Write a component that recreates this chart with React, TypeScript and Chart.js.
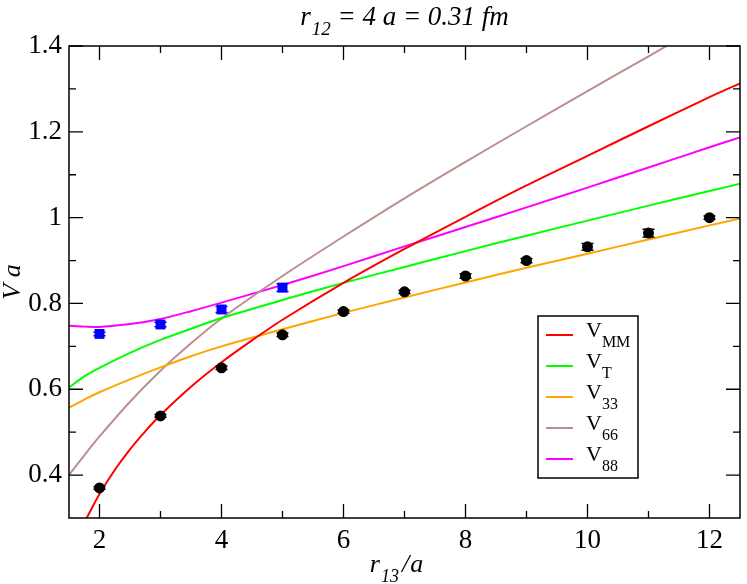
import React, { useEffect, useRef } from "react";
import { Chart, registerables } from "chart.js";
Chart.register(...registerables);

// ---- tick values ----
const xTickLabels = [2, 4, 6, 8, 10, 12];
const xMinorTicks = [3, 5, 7, 9, 11];
const yTickLabels = [0.4, 0.6, 0.8, 1.0, 1.2, 1.4];
const yMinorTicks = [0.5, 0.7, 0.9, 1.1, 1.3];

// ---- lattice data (black circles) ----
const latticeR = [2, 3, 4, 5, 6, 7, 8, 9, 10, 11, 12];
const latticeV = [0.370, 0.538, 0.650, 0.727, 0.781, 0.827, 0.864, 0.900, 0.932, 0.964, 1.000];
const latticeErr = [0.003, 0.003, 0.004, 0.004, 0.004, 0.004, 0.005, 0.005, 0.008, 0.009, 0.004];

// ---- second data set (blue squares) ----
const blueR = [2, 3, 4, 5];
const blueV = [0.729, 0.751, 0.786, 0.837];
const blueErr = [0.004, 0.005, 0.007, 0.009];

// ---- model curves ----
const curveR = [1.5, 1.75, 2, 2.5, 3, 3.5, 4, 5, 6, 7, 8, 9, 10, 11, 12, 12.5];
const vMMR = [1.79, 2, 2.25, 2.5, 2.75, 3, 3.5, 4, 4.5, 5, 6, 7, 8, 9, 10, 11, 12, 12.5];
const vMM = [0.300, 0.356, 0.412, 0.460, 0.502, 0.540, 0.606, 0.663, 0.714, 0.762, 0.848, 0.927, 1.002, 1.075, 1.144, 1.213, 1.281, 1.313];
const vT = [0.604, 0.630, 0.650, 0.685, 0.715, 0.741, 0.766, 0.808, 0.848, 0.885, 0.922, 0.958, 0.993, 1.028, 1.062, 1.079];
const v33 = [0.557, 0.576, 0.593, 0.623, 0.651, 0.677, 0.700, 0.740, 0.778, 0.814, 0.849, 0.883, 0.916, 0.949, 0.982, 0.998];
const v66R = [1.5, 1.75, 2, 2.5, 3, 3.5, 4, 5, 6, 7, 8, 9, 10, 11, 11.3];
const v66 = [0.400, 0.446, 0.490, 0.571, 0.643, 0.707, 0.765, 0.864, 0.956, 1.045, 1.130, 1.213, 1.295, 1.376, 1.400];
const v88 = [0.748, 0.746, 0.745, 0.752, 0.764, 0.782, 0.802, 0.843, 0.887, 0.933, 0.978, 1.024, 1.070, 1.117, 1.164, 1.187];

const legendNames = ["MM", "T", "33", "66", "88"];
const legendColors = ["#ff0000", "#00ff00", "#ffa500", "#bc8f8f", "#ff00ff"];

const SERIF = "'Liberation Serif', 'Times New Roman', Times, serif";

const zip = (xs: number[], ys: number[]) => xs.map((x, i) => ({ x, y: ys[i] }));

type Part = { t: string; size: number; dy: number; italic?: boolean; dx?: number };

function drawParts(ctx: CanvasRenderingContext2D, parts: Part[], x: number, y: number, align: "left" | "center") {
  ctx.save();
  ctx.textBaseline = "alphabetic";
  ctx.textAlign = "left";
  let total = 0;
  const widths = parts.map((p) => {
    ctx.font = `${p.italic ? "italic " : ""}${p.size}px ${SERIF}`;
    const w = ctx.measureText(p.t).width + (p.dx || 0);
    total += w;
    return w;
  });
  let cx = align === "center" ? x - total / 2 : x;
  parts.forEach((p, i) => {
    ctx.font = `${p.italic ? "italic " : ""}${p.size}px ${SERIF}`;
    ctx.fillText(p.t, cx + (p.dx || 0), y + p.dy);
    cx += widths[i];
  });
  ctx.restore();
}

const decor = {
  id: "decor",
  afterDatasetsDraw(chart: any) {
    const ctx: CanvasRenderingContext2D = chart.ctx;
    const xs = chart.scales.x;
    const ys = chart.scales.y;
    const bars = (rs: number[], vs: number[], es: number[], color: string) => {
      ctx.save();
      ctx.strokeStyle = color;
      ctx.lineWidth = 1.5;
      rs.forEach((r, i) => {
        const px = xs.getPixelForValue(r);
        const y1 = ys.getPixelForValue(vs[i] - es[i]);
        const y2 = ys.getPixelForValue(vs[i] + es[i]);
        ctx.beginPath();
        ctx.moveTo(px, y1);
        ctx.lineTo(px, y2);
        ctx.moveTo(px - 6, y1);
        ctx.lineTo(px + 6, y1);
        ctx.moveTo(px - 6, y2);
        ctx.lineTo(px + 6, y2);
        ctx.stroke();
      });
      ctx.restore();
    };
    bars(latticeR, latticeV, latticeErr, "#000000");
    bars(blueR, blueV, blueErr, "#0000ff");
  },
  afterDraw(chart: any) {
    const ctx: CanvasRenderingContext2D = chart.ctx;
    const a = chart.chartArea;
    const xs = chart.scales.x;
    const ys = chart.scales.y;
    ctx.save();
    ctx.strokeStyle = "#000";
    ctx.lineWidth = 1.5;
    ctx.strokeRect(a.left, a.top, a.right - a.left, a.bottom - a.top);
    ctx.lineWidth = 1.3;
    ctx.beginPath();
    const xt = (v: number, len: number) => {
      const p = xs.getPixelForValue(v);
      ctx.moveTo(p, a.bottom);
      ctx.lineTo(p, a.bottom - len);
      ctx.moveTo(p, a.top);
      ctx.lineTo(p, a.top + len);
    };
    const yt = (v: number, len: number) => {
      const p = ys.getPixelForValue(v);
      ctx.moveTo(a.left, p);
      ctx.lineTo(a.left + len, p);
      ctx.moveTo(a.right, p);
      ctx.lineTo(a.right - len, p);
    };
    xTickLabels.forEach((v) => xt(v, 14));
    xMinorTicks.forEach((v) => xt(v, 7));
    yTickLabels.forEach((v) => yt(v, 14));
    yMinorTicks.forEach((v) => yt(v, 7));
    ctx.stroke();

    // legend
    const bx = a.right - 202;
    const by = a.top + 270;
    ctx.fillStyle = "#fff";
    ctx.fillRect(bx, by, 100, 162);
    ctx.lineWidth = 1.5;
    ctx.strokeStyle = "#000";
    ctx.strokeRect(bx, by, 100, 162);
    legendNames.forEach((n, i) => {
      const y = by + 19 + i * 31;
      ctx.strokeStyle = legendColors[i];
      ctx.lineWidth = 2;
      ctx.beginPath();
      ctx.moveTo(bx + 8, y);
      ctx.lineTo(bx + 35, y);
      ctx.stroke();
      ctx.fillStyle = "#000";
      drawParts(ctx, [
        { t: "V", size: 22, dy: 0 },
        { t: n, size: 16, dy: 10 },
      ], bx + 48, y + 2, "left");
    });

    ctx.fillStyle = "#000";
    const cx = (a.left + a.right) / 2;
    // title
    drawParts(ctx, [
      { t: "r", size: 27, dy: 0, italic: true },
      { t: "12", size: 19, dy: 10, italic: true, dx: 1 },
      { t: " = 4 a = 0.31 fm", size: 27, dy: 0, italic: true },
    ], cx, 25, "center");
    // x label
    drawParts(ctx, [
      { t: "r", size: 26, dy: 0, italic: true },
      { t: "13", size: 18, dy: 10, italic: true, dx: 1 },
      { t: "/", size: 26, dy: 0, italic: true, dx: 3 },
      { t: "a", size: 26, dy: 0, italic: true, dx: 1 },
    ], cx - 8, 572, "center");
    // y label
    ctx.save();
    ctx.translate(20, (a.top + a.bottom) / 2);
    ctx.rotate(-Math.PI / 2);
    drawParts(ctx, [{ t: "V a", size: 26, dy: 0, italic: true }], 0, 0, "center");
    ctx.restore();
    ctx.restore();
  },
};

export default function App() {
  const ref = useRef<HTMLCanvasElement>(null);
  useEffect(() => {
    const curve = (label: string, data: any[], color: string) => ({
      label,
      data,
      borderColor: color,
      backgroundColor: color,
      borderWidth: 2,
      pointRadius: 0,
      showLine: true,
      fill: false,
      tension: 0.3,
    });
    const chart = new Chart(ref.current!, {
      type: "line",
      data: {
        datasets: [
          {
            label: "lattice",
            data: zip(latticeR, latticeV),
            showLine: false,
            pointStyle: "circle",
            pointRadius: 5.5,
            pointBackgroundColor: "#000",
            pointBorderColor: "#000",
            pointBorderWidth: 0,
          } as any,
          {
            label: "lattice2",
            data: zip(blueR, blueV),
            showLine: false,
            pointStyle: "rect",
            pointRadius: 7,
            pointBackgroundColor: "#0000ff",
            pointBorderColor: "#0000ff",
            pointBorderWidth: 0,
          } as any,
          curve("V_MM", zip(vMMR, vMM), legendColors[0]),
          curve("V_T", zip(curveR, vT), legendColors[1]),
          curve("V_33", zip(curveR, v33), legendColors[2]),
          curve("V_66", zip(v66R, v66), legendColors[3]),
          curve("V_88", zip(curveR, v88), legendColors[4]),
        ],
      },
      options: {
        animation: false,
        responsive: true,
        maintainAspectRatio: false,
        layout: { padding: { top: 46, right: 3, left: 0, bottom: 0 } },
        plugins: { legend: { display: false }, tooltip: { enabled: false }, title: { display: false } },
        events: [],
        scales: {
          x: {
            type: "linear",
            min: 1.5,
            max: 12.5,
            grid: { display: false, drawTicks: false },
            border: { display: false },
            afterBuildTicks: (s: any) => {
              s.ticks = xTickLabels.map((v) => ({ value: v }));
            },
            afterFit: (s: any) => {
              s.height = 66;
            },
            ticks: {
              padding: 7,
              color: "#000",
              font: { family: SERIF, size: 27 },
              maxRotation: 0,
              callback: (v: any) => String(v),
            },
          },
          y: {
            type: "linear",
            min: 0.3,
            max: 1.4,
            grid: { display: false, drawTicks: false },
            border: { display: false },
            afterBuildTicks: (s: any) => {
              s.ticks = yTickLabels.map((v) => ({ value: v }));
            },
            afterFit: (s: any) => {
              s.width = 69;
            },
            ticks: {
              padding: 7,
              color: "#000",
              font: { family: SERIF, size: 27 },
              callback: (v: any) => String(Math.round(v * 10) / 10),
            },
          },
        },
      } as any,
      plugins: [decor],
    });
    return () => chart.destroy();
  }, []);
  return (
    <div style={{ position: "fixed", left: 0, top: 0, width: 747, height: 584, background: "#fff" }}>
      <canvas ref={ref} />
    </div>
  );
}
